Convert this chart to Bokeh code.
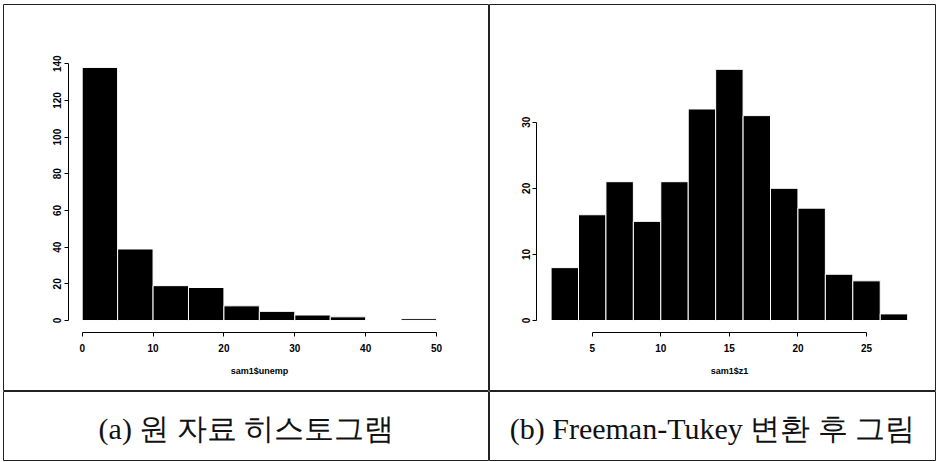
from bokeh.plotting import figure
from bokeh.models import LinearAxis, FixedTicker, Range1d, ColumnDataSource
from bokeh.layouts import column, row
from bokeh.embed import file_html
from bokeh.resources import INLINE
from bokeh.core.properties import value

# ---- data ----
unemp_edges = [0, 5, 10, 15, 20, 25, 30, 35, 40, 45, 50]
unemp_counts = [138, 39, 19, 18, 8, 5, 3, 2, 0, 1]
z1_edges = [2, 4, 6, 8, 10, 12, 14, 16, 18, 20, 22, 24, 26, 28]
z1_counts = [8, 16, 21, 15, 21, 32, 38, 31, 20, 17, 7, 6, 1]

unemp_xticks = [0, 10, 20, 30, 40, 50]
unemp_yticks = [0, 20, 40, 60, 80, 100, 120, 140]
z1_xticks = [5, 10, 15, 20, 25]
z1_yticks = [0, 10, 20, 30]

xlabel_a = "sam1$unemp"
xlabel_b = "sam1$z1"
caption_a = "(a) 원 자료 히스토그램"
caption_b = "(b) Freeman-Tukey 변환 후 그림"

FONT = "Liberation Sans"


def hist_panel(edges, counts, xr, yr, xticks, yticks, xloc, yloc, xlabel, w, h, borders):
    p = figure(width=w, height=h, x_range=Range1d(*xr), y_range=Range1d(*yr),
               output_backend="svg", toolbar_location=None,
               x_axis_location=None, y_axis_location=None, min_border=0)
    p.min_border_left, p.min_border_right, p.min_border_top, p.min_border_bottom = borders
    p.grid.visible = False
    p.outline_line_color = "#222222"
    p.outline_line_width = 1
    p.background_fill_color = "white"
    p.border_fill_color = "white"
    src = ColumnDataSource(dict(left=edges[:-1], right=edges[1:], top=counts,
                                bottom=[0] * len(counts)))
    p.quad(left="left", right="right", top="top", bottom="bottom", source=src,
           fill_color="black", line_color="white", line_width=1)

    xa = LinearAxis(fixed_location=xloc, bounds=(xticks[0], xticks[-1]),
                    ticker=FixedTicker(ticks=xticks), axis_label=xlabel)
    ya = LinearAxis(fixed_location=yloc, bounds=(yticks[0], yticks[-1]),
                    ticker=FixedTicker(ticks=yticks),
                    major_label_orientation="vertical")
    for ax in (xa, ya):
        ax.axis_line_color = "black"
        ax.major_tick_line_color = "black"
        ax.minor_tick_line_color = None
        ax.major_tick_in = 0
        ax.major_tick_out = 4
        ax.major_label_text_font = FONT
        ax.major_label_text_font_size = "10px"
        ax.major_label_text_font_style = "bold"
        ax.major_label_text_color = "black"
    xa.major_label_standoff = 8
    ya.major_label_standoff = 3
    xa.axis_label_text_font = FONT
    xa.axis_label_text_font_size = "9px"
    xa.axis_label_text_font_style = "bold"
    xa.axis_label_text_color = "black"
    xa.axis_label_standoff = 10
    p.add_layout(xa, "below")
    p.add_layout(ya, "left")
    return p


def caption_panel(txt, w, h, borders):
    c = figure(width=w, height=h, x_range=Range1d(0, 1), y_range=Range1d(0, 1),
               output_backend="svg", toolbar_location=None,
               x_axis_location=None, y_axis_location=None, min_border=0)
    c.min_border_left, c.min_border_right, c.min_border_top, c.min_border_bottom = borders
    c.grid.visible = False
    c.outline_line_color = "#222222"
    c.border_fill_color = "white"
    c.text(x=[0.5], y=[0.47], text=[txt], text_align="center",
           text_baseline="middle", text_font=value("Liberation Serif"),
           text_font_size="30px", text_color="#111111")
    return c


p1 = hist_panel(unemp_edges, unemp_counts, (-11.10, 57.47), (-38.7, 172.3),
                unemp_xticks, unemp_yticks, -6.4, -1.93, xlabel_a, 489, 391,
                (3, 0, 4, 0))
p2 = hist_panel(z1_edges, z1_counts, (-2.49, 30.03), (-10.74, 47.81),
                z1_xticks, z1_yticks, -1.77, 0.94, xlabel_b, 448, 391,
                (0, 2, 4, 0))
c1 = caption_panel(caption_a, 489, 71, (3, 0, 0, 2))
c2 = caption_panel(caption_b, 448, 71, (0, 2, 0, 2))

layout = column(row(p1, p2), row(c1, c2))
open("out.html", "w").write(file_html(layout, INLINE))
